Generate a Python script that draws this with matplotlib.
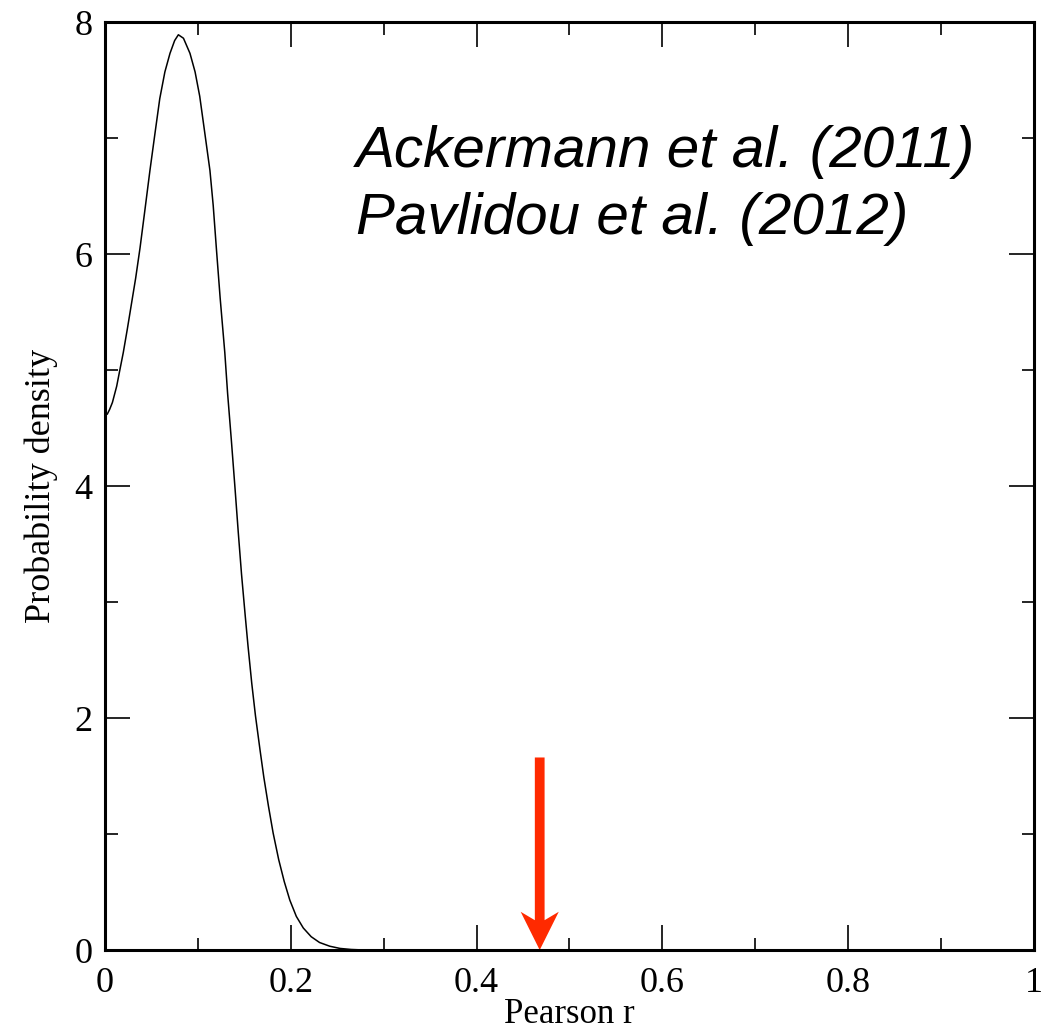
import numpy as np
import matplotlib.pyplot as plt
from matplotlib.ticker import MultipleLocator

# probability density of Pearson r
r = [0.0, 0.0025, 0.005, 0.008, 0.0126, 0.016, 0.0197, 0.024, 0.0287, 0.033, 0.0377,
     0.043, 0.0484, 0.054, 0.059, 0.0645, 0.070, 0.075, 0.079, 0.0845, 0.0915,
     0.097, 0.102, 0.107, 0.113, 0.1165, 0.120, 0.124, 0.129, 0.132, 0.136, 0.140,
     0.1435, 0.147, 0.151, 0.154, 0.158, 0.162, 0.167, 0.171, 0.176, 0.181, 0.187,
     0.193, 0.199, 0.206, 0.2135, 0.222, 0.231, 0.242, 0.253, 0.265, 0.28, 0.32, 1.0]
dens = [4.61, 4.62, 4.66, 4.72, 4.86, 5.0, 5.15, 5.35, 5.58, 5.79, 6.05,
        6.38, 6.72, 7.05, 7.34, 7.57, 7.73, 7.84, 7.89, 7.86, 7.73,
        7.57, 7.36, 7.07, 6.72, 6.42, 6.04, 5.62, 5.15, 4.80, 4.40, 3.98,
        3.60, 3.24, 2.88, 2.62, 2.30, 2.02, 1.72, 1.49, 1.24, 1.01, 0.78,
        0.59, 0.43, 0.29, 0.19, 0.115, 0.065, 0.033, 0.014, 0.005, 0.0, 0.0, 0.0]

r_obs = 0.468      # observed correlation (red arrow)
arrow_top = 1.66

refs = ["Ackermann et al. (2011)", "Pavlidou et al. (2012)"]

fig = plt.figure(figsize=(10.55, 10.33), dpi=100)
ax = fig.add_axes([0.0995, 0.0803, 0.8805, 0.8984])

ax.plot(r, dens, color='black', lw=1.1)

ax.arrow(r_obs, arrow_top, 0, -arrow_top, width=0.0105, head_width=0.041,
         head_length=0.33, overhang=0.22, length_includes_head=True,
         color='#ff2a00', ec='none')

ax.set_xlim(0, 1)
ax.set_ylim(0, 8)
ax.xaxis.set_major_locator(MultipleLocator(0.2))
ax.xaxis.set_minor_locator(MultipleLocator(0.1))
ax.yaxis.set_major_locator(MultipleLocator(2))
ax.yaxis.set_minor_locator(MultipleLocator(1))
ax.xaxis.set_major_formatter(plt.FuncFormatter(lambda v, p: '%g' % round(v, 1)))
ax.yaxis.set_major_formatter(plt.FuncFormatter(lambda v, p: '%g' % v))

for s in ax.spines.values():
    s.set_linewidth(2.2)
ax.tick_params(which='both', direction='in', top=True, right=True, width=1.2,
               labelsize=26, labelfontfamily='Liberation Serif')
ax.tick_params(which='major', length=18, pad=12)
ax.tick_params(which='minor', length=9)
ax.tick_params(axis='y', which='major', pad=9)

ax.set_xlabel('Pearson r', fontsize=25, family='Liberation Serif', labelpad=-1)
ax.set_ylabel('Probability density', fontsize=26, family='Liberation Serif', labelpad=12)

ax.text(0.270, 0.889, refs[0] + '\n' + refs[1], transform=ax.transAxes,
        fontsize=42, family='Liberation Sans', style='italic', va='top',
        linespacing=1.30)

fig.savefig('out.png', dpi=100)
